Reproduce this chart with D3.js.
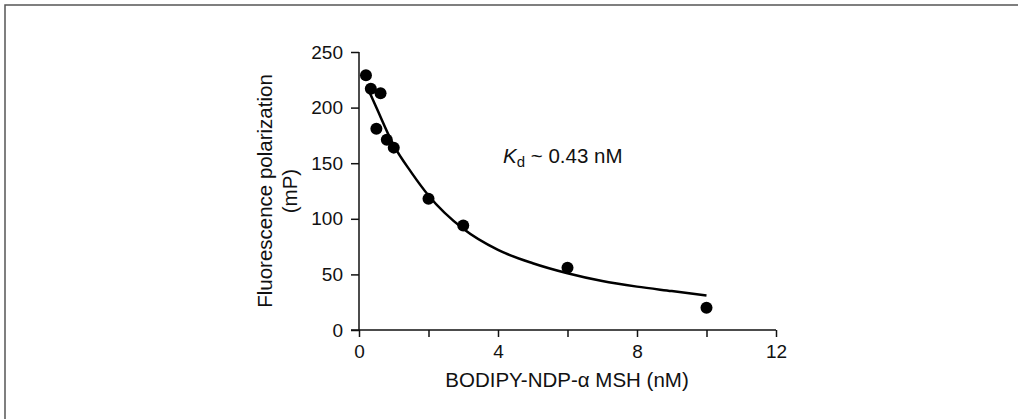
<!DOCTYPE html>
<html>
<head>
<meta charset="utf-8">
<script src="https://cdn.jsdelivr.net/npm/d3@7"></script>
<style>
  body { margin: 0; background: #fff; }
  text { font-family: "Liberation Sans", Arial, Helvetica, sans-serif; fill: #111; }
</style>
</head>
<body>
<script>
// measured points
var concNM = [0.2, 0.34, 0.62, 0.5, 0.8, 1.0, 2.0, 3.0, 6.0, 10.0];
var polarization = [229, 217, 213, 181, 171, 164, 118, 94, 56, 20];

// fitted curve
var fitX = [0.3, 0.5, 1, 1.5, 2, 3, 4, 5, 6, 7, 8, 9, 10];
var fitY = [214, 200, 166, 142, 121, 91, 72, 60, 51, 44, 39, 35, 31];

var xTicks = [0, 2, 4, 6, 8, 10, 12];
var xLabeled = [0, 4, 8, 12];
var yTicks = [0, 50, 100, 150, 200, 250];

var W = 1018, H = 419;

var svg = d3.select("body")
            .append("svg")
            .attr("width", W)
            .attr("height", H);

// frame (only top and left edges are visible in the crop)
svg.append("path")
   .attr("d", "M5," + H + "V5H" + W)
   .attr("fill", "none")
   .attr("stroke", "#555")
   .attr("stroke-width", 1.5);

var x = d3.scaleLinear().domain([0, 12]).range([359, 776]);
var y = d3.scaleLinear().domain([0, 250]).range([330, 52]);

var yAxis = d3.axisLeft(y)
              .tickValues(yTicks)
              .tickSize(8)
              .tickPadding(8);

var gy = svg.append("g")
   .attr("transform", "translate(" + x(0) + ",0)")
   .call(yAxis);

var xAxis = d3.axisBottom(x)
              .tickValues(xTicks)
              .tickSize(7)
              .tickPadding(8)
              .tickFormat(d => xLabeled.includes(d) ? d : "");

var gx = svg.append("g")
   .attr("transform", "translate(0," + y(0) + ")")
   .call(xAxis);

// extend x axis line left to meet y tick at 0
gx.select(".domain").attr("d", "M" + (x(0) - 8) + ",0H" + x(12));
gy.select(".domain").attr("d", "M0," + y(0) + "V" + y(250));

svg.selectAll(".domain, .tick line")
   .attr("stroke", "#111")
   .attr("stroke-width", 1.5);

svg.selectAll(".tick text")
   .attr("font-size", 19)
   .attr("fill", "#111");

// axis titles
svg.append("text")
   .attr("x", 567)
   .attr("y", 387)
   .attr("text-anchor", "middle")
   .attr("font-size", 20.5)
   .text("BODIPY-NDP-\u03b1 MSH (nM)");

var yl = svg.append("text")
   .attr("transform", "translate(272,191) rotate(-90)")
   .attr("text-anchor", "middle")
   .attr("font-size", 20.5);
yl.append("tspan").attr("x", 0).attr("dy", 0).text("Fluorescence polarization");
yl.append("tspan").attr("x", 0).attr("dy", 25).text("(mP)");

// Kd annotation
var kd = svg.append("text")
   .attr("x", 503)
   .attr("y", 163)
   .attr("font-size", 20.5);
kd.append("tspan").attr("font-style", "italic").text("K");
kd.append("tspan").attr("font-size", 15).attr("dy", 4).text("d");
kd.append("tspan").attr("dy", -4).text(" ~ 0.43 nM");

// fit line
var line = d3.line()
             .x((d, i) => x(fitX[i]))
             .y(d => y(d))
             .curve(d3.curveMonotoneX);

svg.append("path")
   .datum(fitY)
   .attr("d", line)
   .attr("fill", "none")
   .attr("stroke", "#000")
   .attr("stroke-width", 2.5);

svg.selectAll("circle.pt")
   .data(concNM).enter()
   .append("circle")
   .attr("class", "pt")
   .attr("cx", d => x(d))
   .attr("cy", (d, i) => y(polarization[i]))
   .attr("r", 6)
   .attr("fill", "#000");
</script>
</body>
</html>
